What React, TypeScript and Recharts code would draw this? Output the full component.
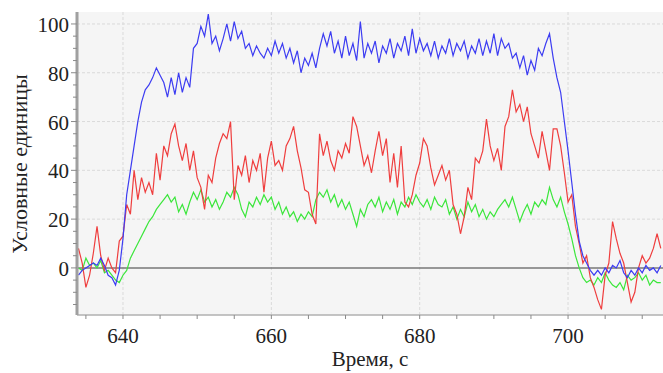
import React from 'react';
import { LineChart, Line, XAxis, YAxis, CartesianGrid, ReferenceLine } from 'recharts';

// sampling grid of the recording, seconds
const TIME_START = 634;
const TIME_STEP = 0.5;

// one value every 0.5 s from 634 s
const blueSeries = [
  -3, -1, 0, 1, 2, 1, 4, 1, -3, -4,
  -7, -1, 12, 30, 40, 50, 60, 68, 73, 75,
  78, 82, 79, 76, 70, 78, 71, 80, 72, 78,
  74, 90, 92, 99, 95, 104, 92, 95, 89, 94,
  100, 93, 101, 94, 97, 90, 92, 87, 91, 88,
  86, 90, 87, 93, 88, 92, 86, 90, 84, 89,
  80, 86, 83, 88, 82, 90, 96, 91, 97, 88,
  93, 86, 95, 87, 92, 85, 101, 86, 92, 88,
  93, 84, 91, 88, 94, 86, 92, 89, 95, 87,
  98, 88, 94, 89, 92, 87, 93, 86, 91, 88,
  94, 87, 92, 89, 93, 86, 91, 88, 94, 87,
  93, 88, 96, 87, 94, 90, 92, 86, 88, 82,
  87, 79, 85, 81, 90, 87, 92, 96, 86, 78,
  72, 60, 48, 35, 22, 11, 5, 2, -1, -3,
  -1, -3, 0, -2, 1, 0, 3, -2, -4, -1,
  -3, 0, -2, 1, -1, 0, -2, 1,
];

const redSeries = [
  8, 2, -8, -3, 6, 17, 5, -1, 4, 0,
  -2, 11, 13, 26, 22, 40, 28, 37, 31, 35,
  30, 47, 36, 50, 46, 55, 59, 50, 44, 51,
  40, 48, 37, 33, 24, 38, 35, 45, 51, 55,
  53, 60, 28, 42, 38, 46, 35, 44, 40, 47,
  31, 45, 52, 42, 44, 40, 50, 53, 58, 48,
  41, 32, 31, 22, 18, 55, 46, 52, 44, 40,
  48, 45, 51, 47, 62, 58, 50, 42, 46, 39,
  48, 56, 46, 53, 35, 47, 33, 50, 27, 25,
  30, 38, 43, 53, 50, 41, 34, 38, 42, 36,
  40, 26, 22, 14, 21, 33, 28, 45, 43, 48,
  61, 50, 44, 49, 40, 58, 62, 73, 64, 67,
  60, 66, 55, 50, 45, 56, 48, 40, 57, 57,
  50, 39, 27, 30, 17, 10, 2, 5, -4, -8,
  -13, -17, -3, 2, 19, 12, 6, 2, -6, -14,
  -10, 0, 5, 2, 4, 8, 14, 8,
];

const greenSeries = [
  0, -1, 4, 1, 2, 0, 3, -2, -1, -3,
  -5, -6, -3, -1, 4, 7, 10, 13, 16, 19,
  21, 24, 26, 28, 30, 27, 29, 23, 26, 22,
  27, 31, 28, 32, 27, 29, 25, 28, 24, 27,
  31, 29, 33, 30, 24, 21, 27, 25, 29, 26,
  30, 27, 29, 24, 27, 22, 25, 21, 23, 19,
  22, 20, 23, 21, 28, 31, 29, 32, 27, 30,
  25, 28, 24, 27, 22, 17, 24, 21, 26, 28,
  25, 29, 23, 27, 24, 28, 22, 27, 25, 29,
  26, 30, 27, 25, 28, 24, 29, 26, 25, 28,
  22, 25, 20, 24, 21, 27, 23, 26, 21, 24,
  20, 23, 21, 24, 26, 28, 25, 29, 24, 19,
  23, 26, 22, 27, 25, 28, 26, 33, 28, 25,
  29, 23, 18, 12, 5, 0, -4, -6, -5, -7,
  -4, -6, -2, -5, -7, -8, -6, -9, -3, -5,
  -4, -2, -5, -3, -7, -5, -6, -6,
];

const xTicks = [635, 640, 645, 650, 655, 660, 665, 670, 675, 680, 685, 690, 695, 700, 705, 710];
const xLabels = [640, 660, 680, 700];
const yTicks = [-15, -10, -5, 0, 5, 10, 15, 20, 25, 30, 35, 40, 45, 50, 55, 60, 65, 70, 75, 80, 85, 90, 95, 100];
const yLabels = [0, 20, 40, 60, 80, 100];

const data = blueSeries.map((b, i) => ({
  t: TIME_START + i * TIME_STEP,
  blue: b,
  red: redSeries[i],
  green: greenSeries[i],
}));

const FONT = "'Liberation Serif', 'Times New Roman', Tinos, 'DejaVu Serif', serif";

const XTick = (props: any) => {
  const { x, y, payload } = props;
  const major = xLabels.includes(payload.value);
  return (
    <g>
      <line x1={x} y1={y} x2={x} y2={y + 4} stroke="#8a8a8a" strokeWidth={1} />
      {major && (
        <text x={x} y={y + 28} textAnchor="middle" fontFamily={FONT} style={{ fontFamily: FONT }} fontSize={21} fill="#222">
          {payload.value}
        </text>
      )}
    </g>
  );
};

const YTick = (props: any) => {
  const { x, y, payload } = props;
  const major = yLabels.includes(payload.value);
  return (
    <g>
      <line x1={x - (major ? 6 : 4)} y1={y} x2={x} y2={y} stroke="#8a8a8a" strokeWidth={1} />
      {major && (
        <text x={x - 8} y={y + 8} textAnchor="end" fontFamily={FONT} style={{ fontFamily: FONT }} fontSize={21} fill="#222">
          {payload.value}
        </text>
      )}
    </g>
  );
};

export default function App() {
  return (
    <div style={{ position: 'absolute', left: 0, top: 0, background: '#fff', fontFamily: FONT }}>
      <LineChart width={663} height={373} data={data} margin={{ top: 12, right: 0, bottom: 0, left: 0 }}>
        <CartesianGrid
          fill="#f5f5f5"
          stroke="#dadada"
          strokeDasharray="3 2"
          horizontalValues={[20, 40, 60, 80, 100]}
          verticalValues={xLabels}
        />
        <XAxis
          type="number"
          dataKey="t"
          domain={[633.8, 712.8]}
          allowDataOverflow
          ticks={xTicks}
          interval={0}
          height={58}
          tickSize={0}
          tickMargin={0}
          tickLine={false}
          axisLine={{ stroke: '#b0b0b0', strokeWidth: 1.5 }}
          tick={<XTick />}
          label={{
            content: () => (
              <text x={370} y={366} textAnchor="middle" fontFamily={FONT} style={{ fontFamily: FONT }} fontSize={21} fill="#222">
                Время, с
              </text>
            ),
          }}
        />
        <YAxis
          type="number"
          domain={[-19.3, 104.9]}
          allowDataOverflow
          ticks={yTicks}
          interval={0}
          width={77}
          tickSize={0}
          tickMargin={0}
          tickLine={false}
          axisLine={{ stroke: '#a0a0a0', strokeWidth: 3 }}
          tick={<YTick />}
          label={{
            content: () => (
              <text
                x={27}
                y={164}
                transform="rotate(-90, 27, 164)"
                textAnchor="middle"
                fontFamily={FONT}
                style={{ fontFamily: FONT }}
                fontSize={22}
                fill="#222"
              >
                Условные единицы
              </text>
            ),
          }}
        />
        <ReferenceLine y={0} stroke="#777" strokeWidth={1.5} />
        <Line type="linear" dataKey="green" stroke="#3be63b" strokeWidth={1.2} dot={false} isAnimationActive={false} />
        <Line type="linear" dataKey="red" stroke="#ef3e3e" strokeWidth={1.2} dot={false} isAnimationActive={false} />
        <Line type="linear" dataKey="blue" stroke="#3c3cf2" strokeWidth={1.2} dot={false} isAnimationActive={false} />
      </LineChart>
    </div>
  );
}
